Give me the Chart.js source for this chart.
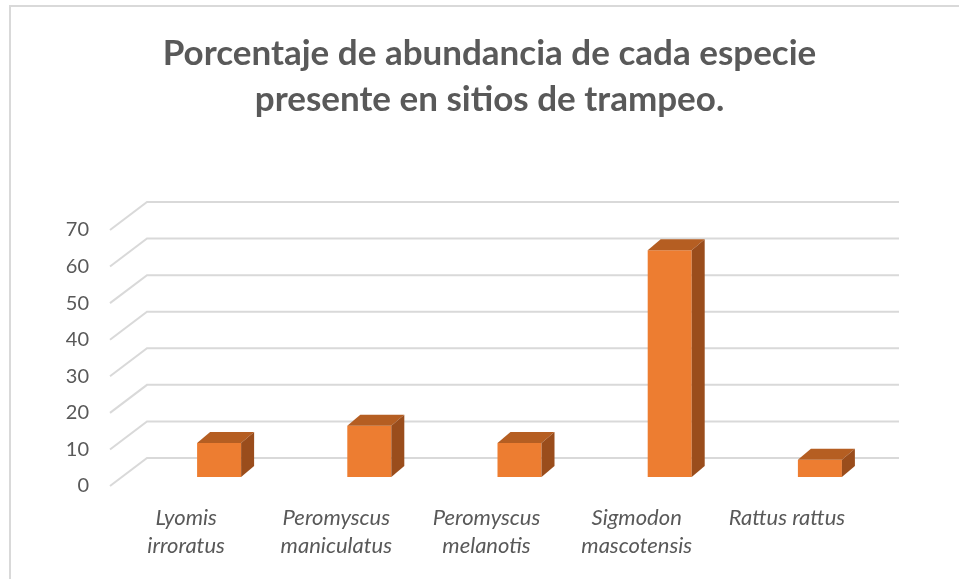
<!DOCTYPE html>
<html>
<head>
<meta charset="utf-8">
<script src="https://cdn.jsdelivr.net/npm/chart.js@4"></script>
<style>
  html, body { margin: 0; padding: 0; background: #ffffff; }
  #wrap { width: 959px; height: 579px; position: relative; }
</style>
</head>
<body>
<div id="wrap"><canvas id="c" width="959" height="579"></canvas></div>
<script>
// ---- data ----
const categories = [
  ["Lyomis", "irroratus"],
  ["Peromyscus", "maniculatus"],
  ["Peromyscus", "melanotis"],
  ["Sigmodon", "mascotensis"],
  "Rattus rattus"
];
const abundance = [9.3, 14.0, 9.3, 62.0, 4.7];
const yTicks = [0, 10, 20, 30, 40, 50, 60, 70];

// ---- style ----
const TEXT = '#595959';
const GRID = '#d9d9d9';
const FRONT = '#ED7D31';
const TOP = '#B55E22';
const SIDE = '#9A4D1C';

const pseudo3D = {
  id: 'pseudo3D',
  beforeDraw(chart) {
    const ctx = chart.ctx;
    ctx.save();
    ctx.fillStyle = '#ffffff';
    ctx.fillRect(0, 0, chart.width, chart.height);
    ctx.strokeStyle = '#d9d9d9';
    ctx.lineWidth = 2;
    ctx.strokeRect(10, 6, chart.width + 20, chart.height + 20);
    ctx.restore();
  },
  beforeDatasetsDraw(chart) {
    const ctx = chart.ctx;
    const ys = chart.scales.y;
    const area = chart.chartArea;
    ctx.save();
    ctx.strokeStyle = GRID;
    ctx.lineWidth = 2;
    ys.ticks.forEach(t => {
      const y = ys.getPixelForValue(t.value);
      ctx.beginPath();
      ctx.moveTo(area.left - 34, y + 9);
      ctx.lineTo(area.left + 3, y - 19);
      ctx.lineTo(area.right + 4, y - 19);
      ctx.stroke();
    });
    ctx.restore();
  },
  afterDatasetsDraw(chart) {
    const ctx = chart.ctx;
    const meta = chart.getDatasetMeta(0);
    const dx = 13, dy = 11;
    ctx.save();
    meta.data.forEach(bar => {
      const p = bar.getProps(['x', 'y', 'base', 'width'], true);
      const l = p.x - p.width / 2, r = p.x + p.width / 2;
      const top = p.y, base = p.base;
      ctx.fillStyle = TOP;
      ctx.beginPath();
      ctx.moveTo(l, top);
      ctx.lineTo(r, top);
      ctx.lineTo(r + dx, top - dy);
      ctx.lineTo(l + dx, top - dy);
      ctx.closePath();
      ctx.fill();
      ctx.fillStyle = SIDE;
      ctx.beginPath();
      ctx.moveTo(r, top);
      ctx.lineTo(r + dx, top - dy);
      ctx.lineTo(r + dx, base - dy);
      ctx.lineTo(r, base);
      ctx.closePath();
      ctx.fill();
    });
    ctx.restore();
  }
};

new Chart(document.getElementById('c'), {
  type: 'bar',
  data: {
    labels: categories,
    datasets: [{
      data: abundance,
      backgroundColor: FRONT,
      borderWidth: 0,
      categoryPercentage: 1,
      barPercentage: 0.293
    }]
  },
  options: {
    responsive: false,
    animation: false,
    devicePixelRatio: 1,
    layout: { padding: { left: 20, right: 0, top: 0, bottom: 0 } },
    plugins: {
      legend: { display: false },
      tooltip: { enabled: false },
      title: {
        display: true,
        text: ['Porcentaje de abundancia de cada especie', 'presente en sitios de trampeo.'],
        color: TEXT,
        font: { family: 'Lato', size: 35, weight: 'bold', lineHeight: 1.314 },
        padding: { top: 31, bottom: 98 }
      }
    },
    scales: {
      x: {
        grid: { display: false, drawTicks: false },
        border: { display: false },
        ticks: {
          color: TEXT,
          font: { family: 'Lato', size: 22, style: 'italic', lineHeight: 1.27 },
          padding: 27,
          labelOffset: -33,
          maxRotation: 0,
          autoSkip: false
        },
        afterFit(scale) { scale.height = 102; }
      },
      y: {
        min: 0,
        max: 70,
        afterBuildTicks(scale) { scale.ticks = yTicks.map(v => ({ value: v })); },
        grid: { display: false, drawTicks: false },
        border: { display: false },
        ticks: {
          color: TEXT,
          font: { family: 'Lato', size: 20 },
          padding: 55,
          labelOffset: 9
        },
        afterFit(scale) { scale.width = 124; }
      },
      yRight: {
        position: 'right',
        display: true,
        grid: { display: false, drawTicks: false },
        border: { display: false },
        ticks: { display: false },
        afterFit(scale) { scale.width = 64; }
      }
    }
  },
  plugins: [pseudo3D]
});
</script>
</body>
</html>
